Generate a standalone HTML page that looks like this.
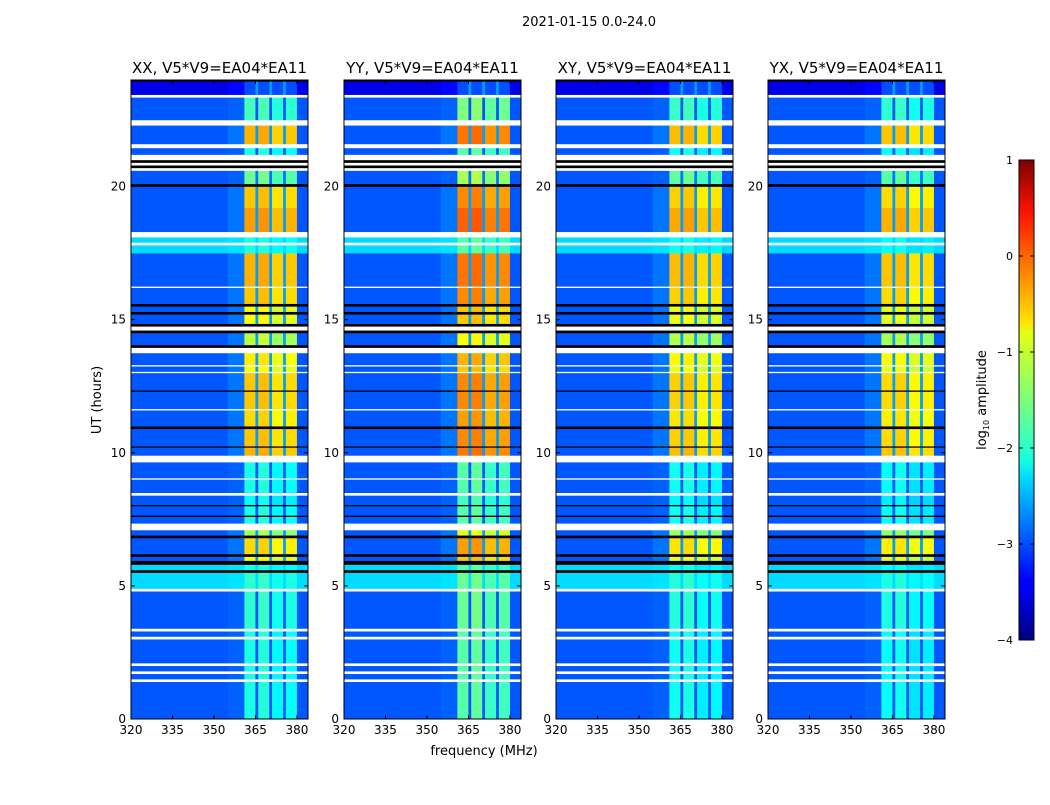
<!DOCTYPE html>
<html><head><meta charset="utf-8">
<style>
html,body{margin:0;padding:0;background:#fff;}
body{width:1050px;height:800px;overflow:hidden;font-family:"Liberation Sans","DejaVu Sans",sans-serif;}
svg text{font-family:"DejaVu Sans","Liberation Sans",sans-serif;}
</style></head>
<body>
<svg id="chart" width="1050" height="800" viewBox="0 0 1050 800" xmlns="http://www.w3.org/2000/svg">
<defs>
<linearGradient id="jetgrad" x1="0" y1="1" x2="0" y2="0">
<stop offset="0" stop-color="#00007f"/><stop offset="0.11" stop-color="#0000ff"/>
<stop offset="0.125" stop-color="#0000ff"/><stop offset="0.34" stop-color="#00dcff"/>
<stop offset="0.375" stop-color="#16ffe1"/><stop offset="0.5" stop-color="#7cff79"/>
<stop offset="0.64" stop-color="#e4ff13"/><stop offset="0.66" stop-color="#ffe600"/>
<stop offset="0.89" stop-color="#ff1300"/><stop offset="1" stop-color="#7f0000"/>
</linearGradient>
</defs>
<text x="589" y="26" font-size="13" text-anchor="middle">2021-01-15 0.0-24.0</text>
<g id="panels"></g>
<text x="0" y="0" font-size="13" text-anchor="middle" transform="translate(101,400) rotate(-90)">UT (hours)</text>
<text x="484" y="755" font-size="13" text-anchor="middle">frequency (MHz)</text>
<g>
<rect x="1019" y="160" width="15" height="480" fill="url(#jetgrad)" stroke="#000" stroke-width="1"/>
<g id="cbticks"></g>
<text font-size="13" text-anchor="middle" transform="translate(986,400) rotate(-90)">log<tspan font-size="8" dy="3">10</tspan><tspan dy="-3"> amplitude</tspan></text>
</g>
</svg>
<script>
// ---- data ----
const panelTitles = ["XX, V5*V9=EA04*EA11","YY, V5*V9=EA04*EA11","XY, V5*V9=EA04*EA11","YX, V5*V9=EA04*EA11"];
const panelBandOffset = [0, 0.3, -0.05, -0.1];
const xTicks = [320,335,350,365,380];
const yTicks = [0,5,10,15,20];
const cbTicks = [1,0,-1,-2,-3,-4];
// frequency segments (MHz) and role
const freqStart = [320,355,361,365,366,370,371,375,376,380];
const freqEnd   = [355,361,365,366,370,371,375,376,380,384];
const freqRole  = ["bg","edge","band","gap","band","gap","band","gap","band","bg"];
const bandChanOffset = [0,0,0,0,0.05,0,-0.15,0,-0.1,0];
// time segments (hours): kind q=normal, c=bright bg, w=flagged white, k=black, d=dark
const segStart = [0,1.4,1.5,1.7,1.8,2.0,2.1,3.0,3.1,3.3,3.4,4.8,4.9,5.5,5.6,5.8,5.95,6.1,6.2,6.8,6.9,7.1,7.35,7.6,7.65,8.0,8.05,8.4,8.5,9.0,9.05,9.65,9.9,10.2,10.25,10.9,11.0,11.6,11.65,12.3,12.35,13.0,13.05,13.25,13.3,13.75,13.95,14.05,14.5,14.6,14.75,14.85,15.2,15.3,15.5,15.6,16.2,16.25,17.5,17.8,17.9,18.1,18.3,19.2,20.0,20.1,20.6,20.7,20.8,20.9,21.0,21.2,21.45,21.6,22.3,22.5,23.35,23.45,23.95];
const segEnd   = [1.4,1.5,1.7,1.8,2.0,2.1,3.0,3.1,3.3,3.4,4.8,4.9,5.5,5.6,5.8,5.95,6.1,6.2,6.8,6.9,7.1,7.35,7.6,7.65,8.0,8.05,8.4,8.5,9.0,9.05,9.65,9.9,10.2,10.25,10.9,11.0,11.6,11.65,12.3,12.35,13.0,13.05,13.25,13.3,13.75,13.95,14.05,14.5,14.6,14.75,14.85,15.2,15.3,15.5,15.6,16.2,16.25,17.5,17.8,17.9,18.1,18.3,19.2,20.0,20.1,20.6,20.7,20.8,20.9,21.0,21.2,21.45,21.6,22.3,22.5,23.35,23.45,23.95,24];
const segKind  = ["q","w","q","w","q","w","q","w","q","w","q","w","c","k","c","k","q","k","q","k","q","w","q","k","q","k","q","w","q","w","q","w","q","k","q","k","q","w","q","k","q","w","q","w","q","w","k","q","k","w","k","q","k","q","k","q","w","q","c","w","c","w","q","q","k","q","w","k","w","k","w","q","w","q","w","q","w","d","k"];
const segBand  = [-2.0,0,-2.0,0,-2.0,0,-2.0,0,-2.0,0,-1.9,0,-1.9,0,-2.0,0,-0.9,0,-0.7,0,-1.3,0,-2.0,0,-2.0,0,-2.1,0,-2.0,0,-2.0,0,-0.5,0,-0.6,0,-0.7,0,-0.6,0,-0.6,0,-0.9,0,-0.8,0,0,-1.2,0,0,0,-0.9,0,-0.9,0,-0.6,0,-0.5,-2.0,0,-2.0,0,-0.4,-0.6,0,-1.6,0,0,0,0,0,-2.0,0,-0.5,0,-1.8,0,0,0];
const bgLevel = {q:-2.95, c:-2.3, d:-3.5};

// ---- scales ----
const panelX = [131,344,556,768], PW = 177, PT = 80, PB = 719;
const fMin = 320, fMax = 384, tMin = 0, tMax = 24;
function xs(p,f){ return panelX[p] + (f - fMin) / (fMax - fMin) * PW; }
function ys(t){ return PB - (t - tMin) / (tMax - tMin) * (PB - PT); }
function cbY(v){ return 640 - (v + 4) / 5 * 480; }
function jet(v){
  let x = Math.max(0, Math.min(1, (v + 4) / 5));
  const f = (a) => Math.max(0, Math.min(1, a));
  const r = f(1.5 - Math.abs(4*x - 3)), g = f(1.5 - Math.abs(4*x - 2)), b = f(1.5 - Math.abs(4*x - 1));
  return `rgb(${Math.round(r*255)},${Math.round(g*255)},${Math.round(b*255)})`;
}
const NS = "http://www.w3.org/2000/svg";
function mk(tag, attrs, parent){ const e = document.createElementNS(NS, tag); for (const k in attrs) e.setAttribute(k, attrs[k]); parent.appendChild(e); return e; }

const root = document.getElementById('panels');
for (let p = 0; p < 4; p++){
  const g = mk('g', {}, root);
  
  
  const hm = mk('g', {}, g);
  
  
  for (let i = 0; i < segStart.length; i++){
    const kind = segKind[i];
    const y1 = ys(segEnd[i]), y0 = ys(segStart[i]);
    for (let j = 0; j < freqStart.length; j++){
      let col;
      if (kind === 'w') col = '#ffffff';
      else if (kind === 'k') col = '#000000';
      else {
        const bg = bgLevel[kind];
        const role = freqRole[j];
        let v;
        if (role === 'bg') v = bg;
        else if (role === 'edge') v = bg + (segBand[i] > -1.5 ? 0.15 : 0.05);
        else if (role === 'gap') v = Math.max(bg, Math.min(-2.6, segBand[i] - 1.2));
        else v = (kind === 'd') ? -3.0 : segBand[i] + panelBandOffset[p] + bandChanOffset[j];
        col = jet(v);
      }
      const x0 = xs(p, freqStart[j]), x1 = xs(p, freqEnd[j]);
      const r = mk('rect', {x: x0.toFixed(2), y: y1.toFixed(2), width: (x1 - x0 + 0.3).toFixed(2), height: (y0 - y1 + 0.3).toFixed(2), fill: col}, hm);
      
      
    }
  }
  const fr = mk('rect', {x: panelX[p], y: PT, width: PW, height: PB - PT, fill: 'none', stroke: '#000', 'stroke-width': 1}, g);
  
  
  const t = mk('text', {x: panelX[p] + PW/2, y: 73, 'font-size': 15, 'text-anchor': 'middle'}, g);
  t.textContent = panelTitles[p];
  
  
  xTicks.forEach(v => {
    const x = xs(p, v);
    mk('line', {x1: x, x2: x, y1: PB, y2: PB - 4, stroke: '#000'}, g);
    mk('line', {x1: x, x2: x, y1: PT, y2: PT + 4, stroke: '#000'}, g);
    const l = mk('text', {x: x, y: PB + 15, 'font-size': 12, 'text-anchor': 'middle'}, g);
    l.textContent = v;
    
    
  });
  yTicks.forEach(v => {
    const y = ys(v);
    mk('line', {x1: panelX[p], x2: panelX[p] + 4, y1: y, y2: y, stroke: '#000'}, g);
    mk('line', {x1: panelX[p] + PW, x2: panelX[p] + PW - 4, y1: y, y2: y, stroke: '#000'}, g);
    const l = mk('text', {x: panelX[p] - 5, y: y + 4, 'font-size': 12, 'text-anchor': 'end'}, g);
    l.textContent = v;
    
    
  });
}
const cbt = document.getElementById('cbticks');
cbTicks.forEach(v => {
  const y = cbY(v);
  mk('line', {x1: 1019, x2: 1023, y1: y, y2: y, stroke: '#000'}, cbt);
  mk('line', {x1: 1030, x2: 1034, y1: y, y2: y, stroke: '#000'}, cbt);
  const l = mk('text', {x: 1013, y: y + 4, 'font-size': 11, 'text-anchor': 'end'}, cbt);
  l.textContent = v < 0 ? '\u2212' + Math.abs(v) : v;
  
  
});
</script>
</body></html>
